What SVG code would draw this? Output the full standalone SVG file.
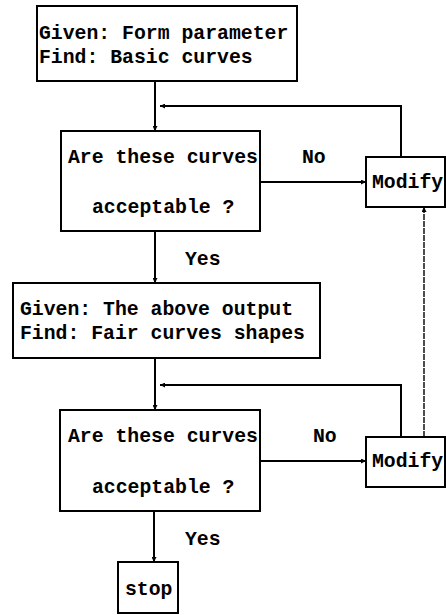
<svg xmlns="http://www.w3.org/2000/svg" width="446" height="615" viewBox="0 0 446 615">
<style>
.box{fill:#fff;stroke:#000;stroke-width:2}
.t{font-family:"Liberation Mono","DejaVu Sans Mono",monospace;font-weight:bold;font-size:19.8px;fill:#000}
.c{fill:none;stroke:#000;stroke-width:2}
.d{fill:none;stroke:#000;stroke-width:1.4;stroke-dasharray:6 1}
</style>
<defs>
<marker id="ah" viewBox="0 0 10 10" refX="10" refY="5" markerWidth="5" markerHeight="5" orient="auto" markerUnits="userSpaceOnUse">
<path d="M0,0 L10,5 L0,10 z" fill="#000"/>
</marker>
</defs>
<rect width="446" height="615" fill="#fff"/>
<g id="connectors">
<line class="c" x1="155" y1="81" x2="155" y2="131" marker-end="url(#ah)"/>
<polyline class="c" points="401,157 401,106 160,106" marker-end="url(#ah)"/>
<line class="c" x1="260" y1="182" x2="366" y2="182" marker-end="url(#ah)"/>
<line class="c" x1="155" y1="231" x2="155" y2="283" marker-end="url(#ah)"/>
<line class="c" x1="155" y1="358" x2="155" y2="410" marker-end="url(#ah)"/>
<polyline class="c" points="401,437 401,385 160,385" marker-end="url(#ah)"/>
<line class="c" x1="260" y1="461" x2="366" y2="461" marker-end="url(#ah)"/>
<line class="d" x1="424" y1="437" x2="424" y2="207" marker-end="url(#ah)"/>
<line class="c" x1="154" y1="511" x2="154" y2="562" marker-end="url(#ah)"/>
<text class="t" x="302" y="163">No</text>
<text class="t" x="185" y="265">Yes</text>
<text class="t" x="313" y="442">No</text>
<text class="t" x="185" y="545">Yes</text>
</g>
<g id="given1">
<rect class="box" x="37" y="6" width="260" height="75"/>
<text class="t" x="39" y="39">Given: Form parameter</text>
<text class="t" x="39" y="63">Find: Basic curves</text>
</g>
<g id="decision1">
<rect class="box" x="61" y="131" width="199" height="100"/>
<text class="t" x="68" y="163">Are these curves</text>
<text class="t" x="92" y="213">acceptable ?</text>
</g>
<g id="modify1">
<rect class="box" x="366" y="157" width="79" height="50"/>
<text class="t" x="372" y="188">Modify</text>
</g>
<g id="given2">
<rect class="box" x="13" y="283" width="307" height="75"/>
<text class="t" x="20" y="315">Given: The above output</text>
<text class="t" x="20" y="339">Find: Fair curves shapes</text>
</g>
<g id="decision2">
<rect class="box" x="60" y="410" width="200" height="101"/>
<text class="t" x="68" y="442">Are these curves</text>
<text class="t" x="92" y="493">acceptable ?</text>
</g>
<g id="modify2">
<rect class="box" x="366" y="437" width="79" height="50"/>
<text class="t" x="372" y="467">Modify</text>
</g>
<g id="stop">
<rect class="box" x="118" y="562" width="60" height="51"/>
<text class="t" x="125" y="595">stop</text>
</g>
</svg>
